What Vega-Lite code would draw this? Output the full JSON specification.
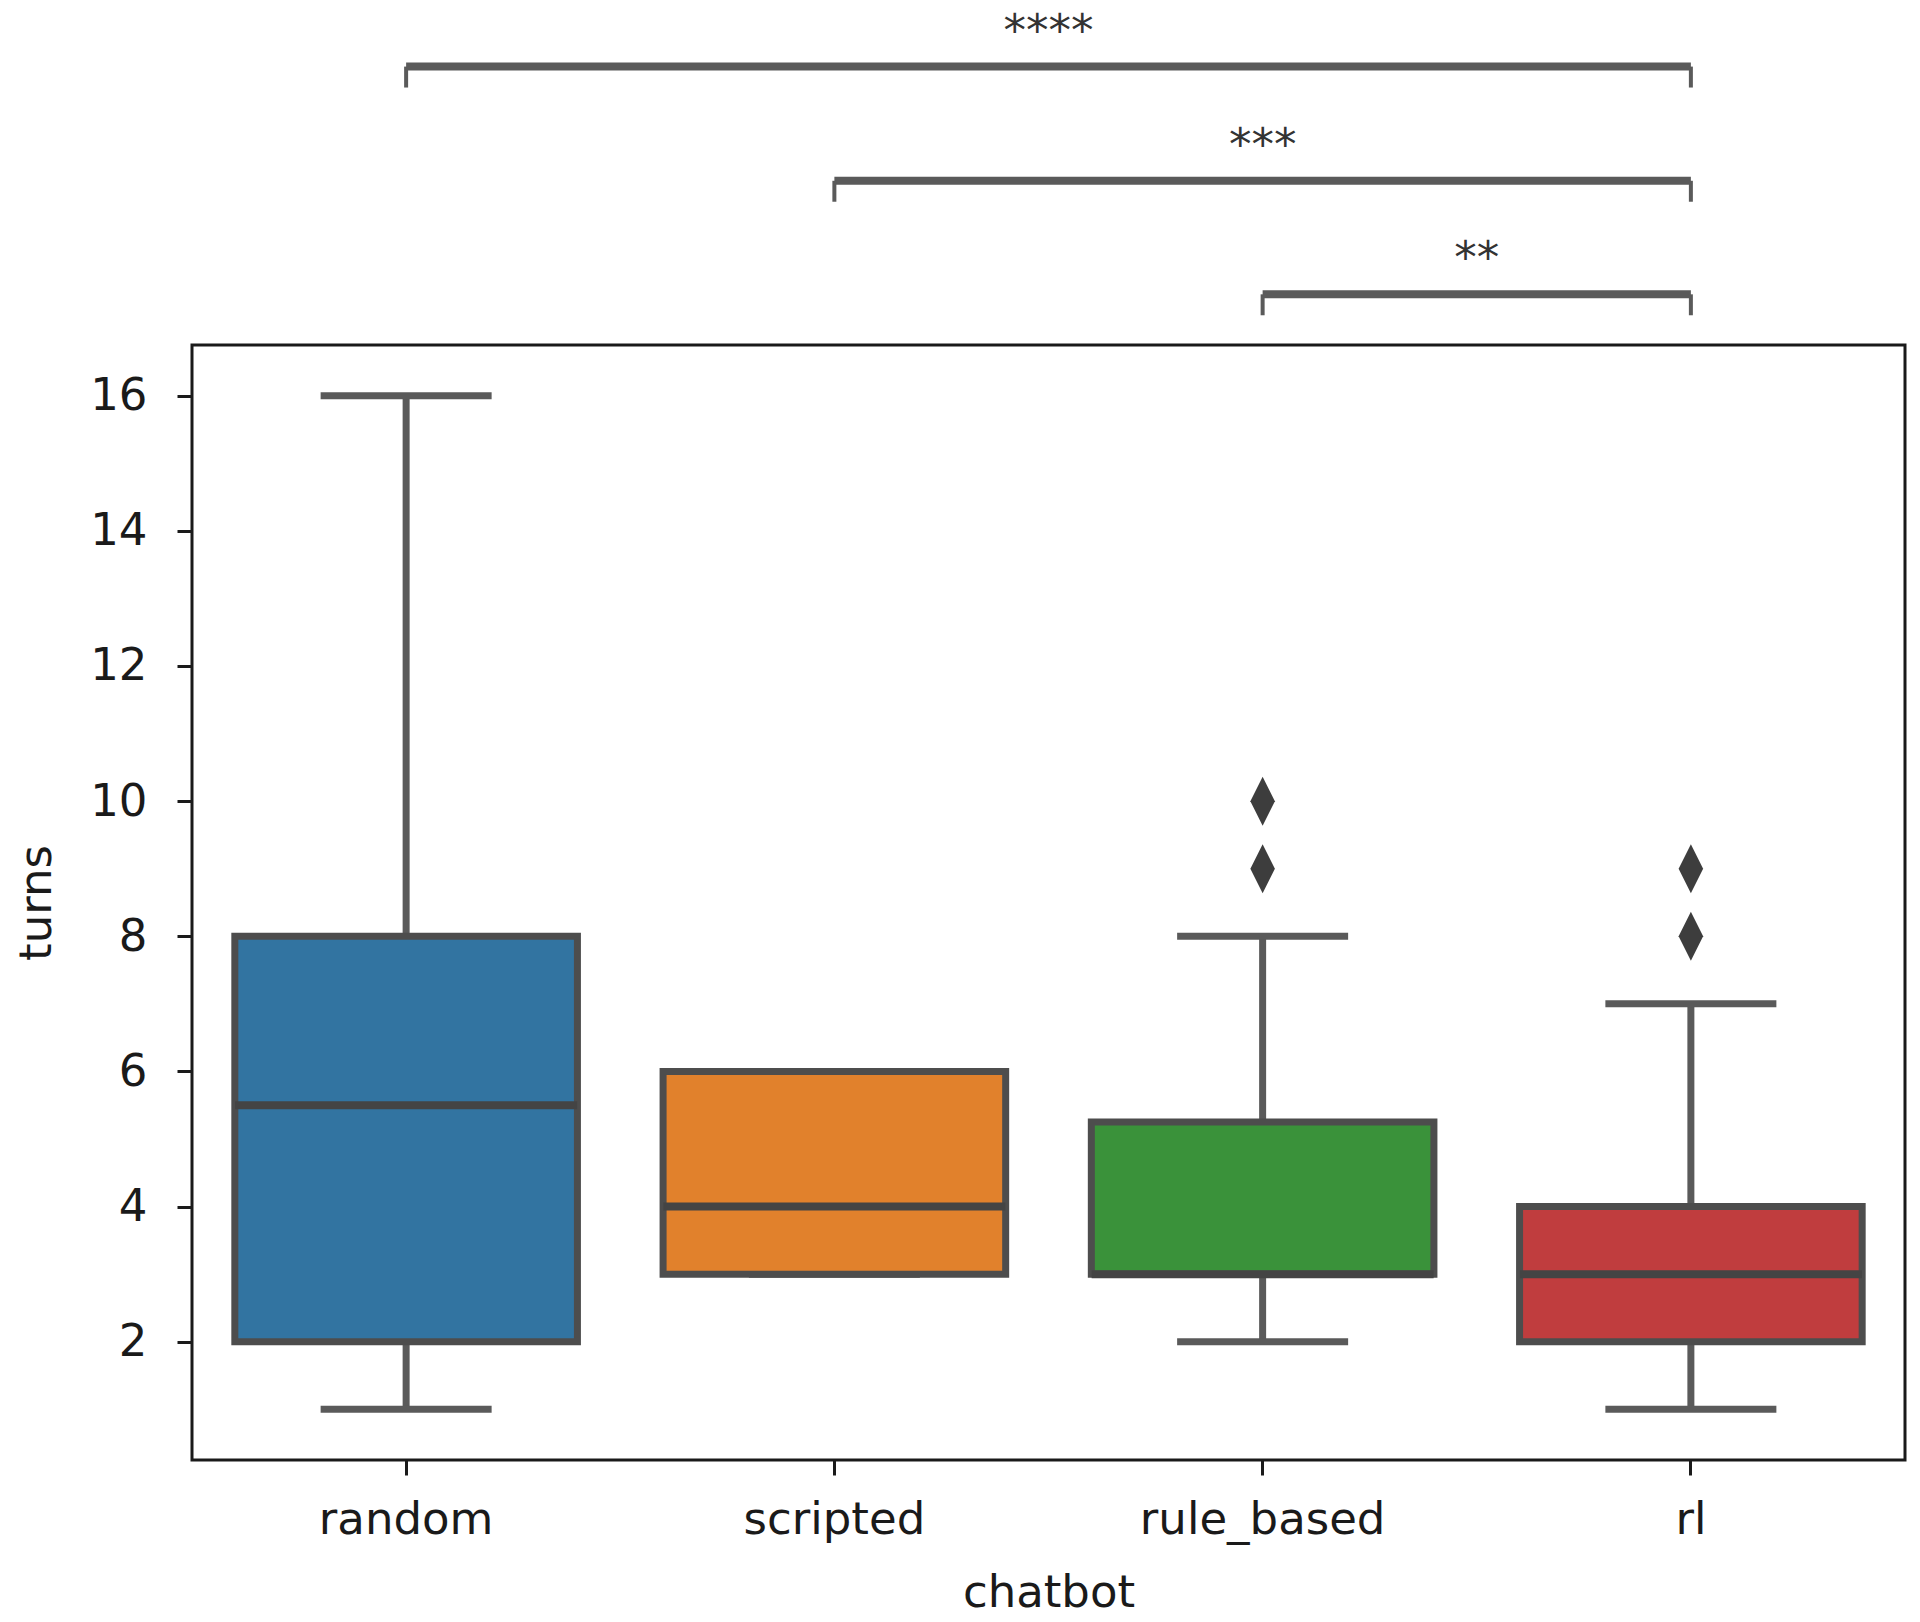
{
  "$schema": "https://vega.github.io/schema/vega-lite/v6.json",
  "width": 1713,
  "height": 1115,
  "autosize": {"type": "none"},
  "padding": {"left": 192, "top": 345, "right": 15, "bottom": 162},
  "background": "white",
  "config": {
    "font": "DejaVu Sans",
    "view": {"stroke": "#1a1a1a", "strokeWidth": 3},
    "axis": {
      "domain": false,
      "grid": false,
      "labelFont": "DejaVu Sans",
      "titleFont": "DejaVu Sans",
      "labelFontSize": 45,
      "titleFontSize": 45,
      "titleFontWeight": "normal",
      "labelColor": "#1a1a1a",
      "titleColor": "#1a1a1a",
      "tickColor": "#1a1a1a",
      "tickWidth": 3,
      "tickSize": 15,
      "labelLimit": 0
    }
  },
  "datasets": {
    "boxes": [
      {"chatbot": "random", "lower": 1, "q1": 2, "median": 5.5, "q3": 8, "upper": 16},
      {"chatbot": "scripted", "lower": 3, "q1": 3, "median": 4, "q3": 6, "upper": 6},
      {"chatbot": "rule_based", "lower": 2, "q1": 3, "median": 3, "q3": 5.25, "upper": 8},
      {"chatbot": "rl", "lower": 1, "q1": 2, "median": 3, "q3": 4, "upper": 7}
    ],
    "outliers": [
      {"chatbot": "rule_based", "turns": 9},
      {"chatbot": "rule_based", "turns": 10},
      {"chatbot": "rl", "turns": 8},
      {"chatbot": "rl", "turns": 9}
    ],
    "brackets": [
      {"from": "random", "to": "rl", "y": 20.87, "tip": 20.56, "mid": 1.5, "label": "****"},
      {"from": "scripted", "to": "rl", "y": 19.18, "tip": 18.87, "mid": 2, "label": "***"},
      {"from": "rule_based", "to": "rl", "y": 17.5, "tip": 17.19, "mid": 2.5, "label": "**"}
    ]
  },
  "resolve": {"scale": {"x": "independent"}},
  "layer": [
    {
      "layer": [
        {
          "data": {"name": "boxes"},
          "mark": {"type": "rule", "color": "#5a5a5a", "strokeWidth": 7},
          "encoding": {
            "x": {
              "field": "chatbot", "type": "nominal",
              "scale": {"domain": ["random", "scripted", "rule_based", "rl"], "paddingInner": 0, "paddingOuter": 0},
              "axis": {"title": "chatbot", "labelAngle": 0, "labelPadding": 22, "titlePadding": 28, "labelLimit": 0}
            },
            "y": {
              "field": "lower", "type": "quantitative",
              "scale": {"domain": [0.25, 16.75], "nice": false, "zero": false},
              "axis": {"title": "turns", "values": [2, 4, 6, 8, 10, 12, 14, 16], "format": "d", "labelPadding": 30, "titlePadding": 30}
            },
            "y2": {"field": "q1"}
          }
        },
        {
          "data": {"name": "boxes"},
          "mark": {"type": "rule", "color": "#5a5a5a", "strokeWidth": 7},
          "encoding": {
            "x": {"field": "chatbot", "type": "nominal", "title": "chatbot"},
            "y": {"field": "q3", "type": "quantitative", "title": "turns"},
            "y2": {"field": "upper"}
          }
        },
        {
          "data": {"name": "boxes"},
          "mark": {"type": "tick", "color": "#5a5a5a", "opacity": 1, "size": 171, "thickness": 7},
          "encoding": {
            "x": {"field": "chatbot", "type": "nominal", "title": "chatbot"},
            "y": {"field": "lower", "type": "quantitative", "title": "turns"}
          }
        },
        {
          "data": {"name": "boxes"},
          "mark": {"type": "tick", "color": "#5a5a5a", "opacity": 1, "size": 171, "thickness": 7},
          "encoding": {
            "x": {"field": "chatbot", "type": "nominal", "title": "chatbot"},
            "y": {"field": "upper", "type": "quantitative", "title": "turns"}
          }
        },
        {
          "data": {"name": "boxes"},
          "mark": {"type": "bar", "width": {"band": 0.8}, "stroke": "#4d4d4d", "strokeWidth": 7, "fillOpacity": 1},
          "encoding": {
            "x": {"field": "chatbot", "type": "nominal", "title": "chatbot"},
            "y": {"field": "q1", "type": "quantitative", "title": "turns"},
            "y2": {"field": "q3"},
            "fill": {
              "field": "chatbot", "type": "nominal",
              "scale": {"domain": ["random", "scripted", "rule_based", "rl"], "range": ["#3274a1", "#e1812c", "#3a923a", "#c03d3e"]},
              "legend": null
            }
          }
        },
        {
          "data": {"name": "boxes"},
          "mark": {"type": "tick", "color": "#444444", "opacity": 1, "size": 342, "thickness": 8},
          "encoding": {
            "x": {"field": "chatbot", "type": "nominal", "title": "chatbot"},
            "y": {"field": "median", "type": "quantitative", "title": "turns"}
          }
        },
        {
          "data": {"name": "outliers"},
          "mark": {"type": "point", "shape": "M0,-1L0.5,0L0,1L-0.5,0Z", "filled": true, "color": "#3d3d3d", "opacity": 1, "size": 2400},
          "encoding": {
            "x": {"field": "chatbot", "type": "nominal", "title": "chatbot"},
            "y": {"field": "turns", "type": "quantitative", "title": "turns"}
          }
        },
        {
          "data": {"name": "brackets"},
          "mark": {"type": "rule", "color": "#5a5a5a", "strokeWidth": 8, "clip": false},
          "encoding": {
            "x": {"field": "from", "type": "nominal", "title": "chatbot"},
            "x2": {"field": "to"},
            "y": {"field": "y", "type": "quantitative", "title": "turns"}
          }
        },
        {
          "data": {"name": "brackets"},
          "mark": {"type": "rule", "color": "#5a5a5a", "strokeWidth": 4, "clip": false},
          "encoding": {
            "x": {"field": "from", "type": "nominal", "title": "chatbot"},
            "y": {"field": "y", "type": "quantitative", "title": "turns"},
            "y2": {"field": "tip"}
          }
        },
        {
          "data": {"name": "brackets"},
          "mark": {"type": "rule", "color": "#5a5a5a", "strokeWidth": 4, "clip": false},
          "encoding": {
            "x": {"field": "to", "type": "nominal", "title": "chatbot"},
            "y": {"field": "y", "type": "quantitative", "title": "turns"},
            "y2": {"field": "tip"}
          }
        }
      ]
    },
    {
      "data": {"name": "brackets"},
      "mark": {"type": "text", "fontSize": 45, "font": "DejaVu Sans", "color": "#333333", "baseline": "alphabetic", "align": "center", "dy": -21, "clip": false},
      "encoding": {
        "x": {"field": "mid", "type": "quantitative", "scale": {"domain": [-0.5, 3.5], "nice": false, "zero": false}, "axis": null},
        "y": {"field": "y", "type": "quantitative", "title": "turns"},
        "text": {"field": "label"}
      }
    }
  ]
}
